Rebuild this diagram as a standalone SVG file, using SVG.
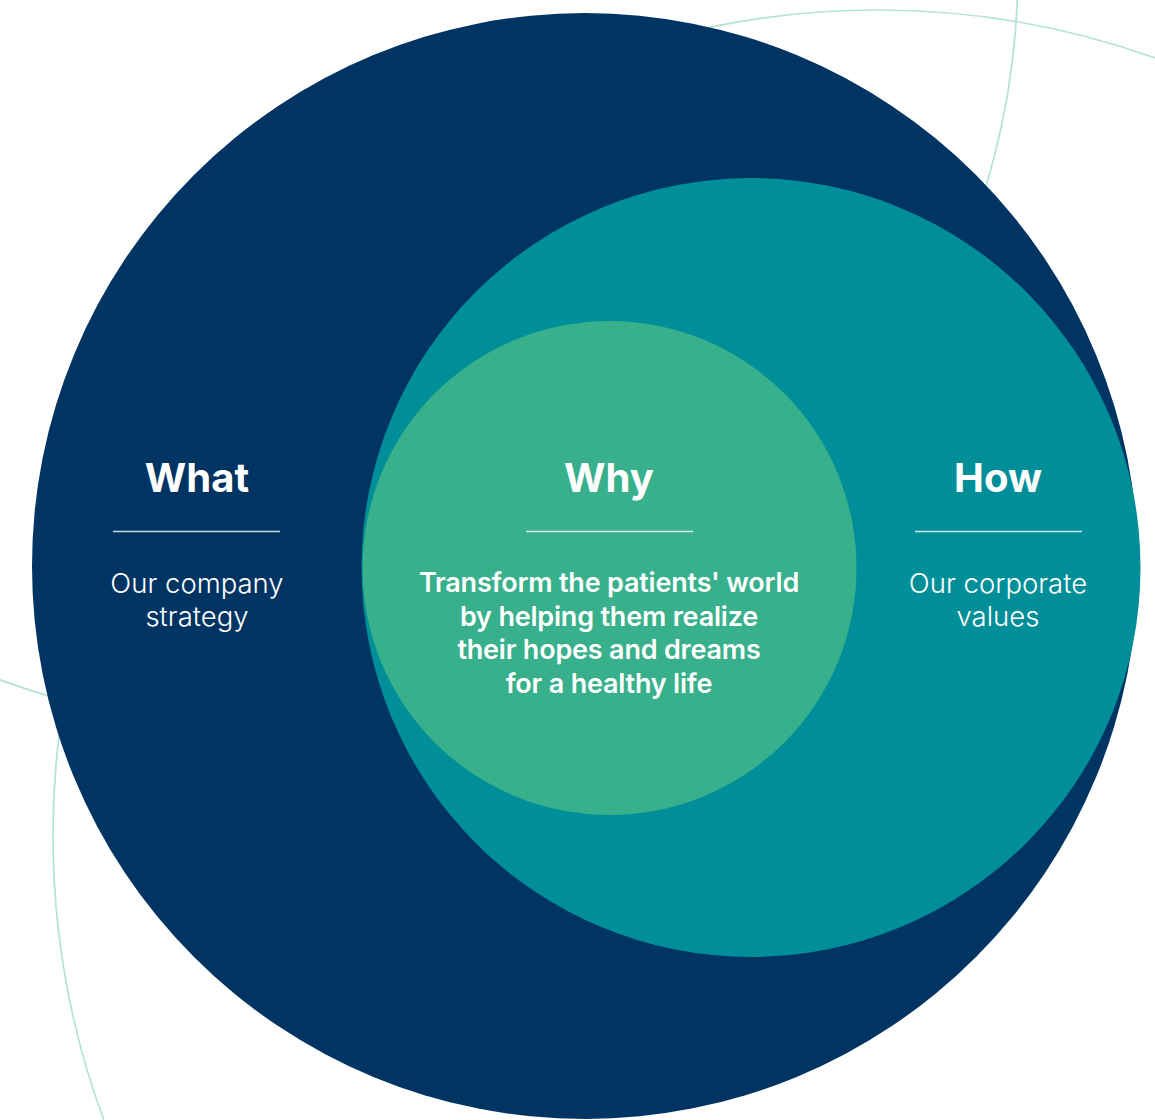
<svg xmlns="http://www.w3.org/2000/svg" width="1155" height="1120" viewBox="0 0 1155 1120">
  <style>
    .bg-arc { fill: none; stroke: #b5e3d3; stroke-width: 1.7; }
    .title { font-family: Inter, "Noto Sans", "Liberation Sans", sans-serif; font-weight: 700; font-size: 40px; fill: #ffffff; text-anchor: middle; }
    .sub { font-family: Inter, "Noto Sans", "Liberation Sans", sans-serif; font-weight: 300; font-size: 27.5px; fill: #ffffff; text-anchor: middle; }
    .body { font-family: Inter, "Noto Sans", "Liberation Sans", sans-serif; font-weight: 600; font-size: 27px; fill: #ffffff; text-anchor: middle; letter-spacing: -0.2px; }
    .rule { stroke: #ffffff; stroke-opacity: 0.8; stroke-width: 1.4; }
  </style>
  <rect width="1155" height="1120" fill="#ffffff"/>
  <g id="background">
    <circle class="bg-arc" cx="878" cy="835" r="825"/>
    <circle class="bg-arc" cx="260" cy="-32" r="758"/>
  </g>
  <g id="node-what">
    <circle cx="585" cy="566" r="553" fill="#003462"/>
    <text class="title" x="197" y="492">What</text>
    <line class="rule" x1="113" y1="531.5" x2="280" y2="531.5"/>
    <text class="sub" x="197" y="593">Our company</text>
    <text class="sub" x="197" y="626">strategy</text>
  </g>
  <g id="node-how">
    <circle cx="751" cy="567.5" r="389.5" fill="#008f99"/>
    <text class="title" x="998" y="492">How</text>
    <line class="rule" x1="915" y1="531.5" x2="1082" y2="531.5"/>
    <text class="sub" x="998" y="593">Our corporate</text>
    <text class="sub" x="998" y="626">values</text>
  </g>
  <g id="node-why">
    <circle cx="609.5" cy="568" r="247" fill="#38b08b"/>
    <text class="title" x="609" y="492">Why</text>
    <line class="rule" x1="526" y1="531.5" x2="693" y2="531.5"/>
    <text class="body" x="609" y="592">Transform the patients' world</text>
    <text class="body" x="609" y="626">by helping them realize</text>
    <text class="body" x="609" y="659">their hopes and dreams</text>
    <text class="body" x="609" y="693">for a healthy life</text>
  </g>
  <g id="connectors"/>
</svg>
